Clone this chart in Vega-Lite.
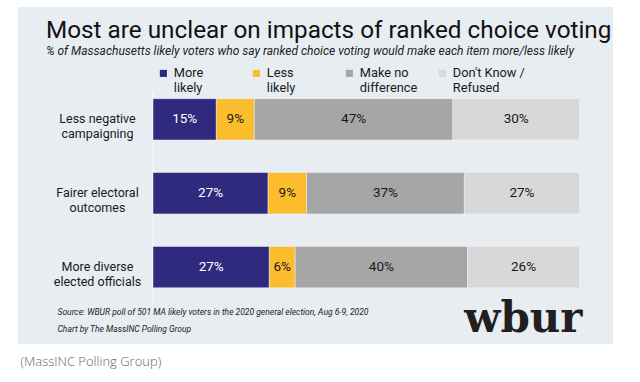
{
  "$schema": "https://vega.github.io/schema/vega-lite/v6.json",
  "width": 595,
  "height": 337,
  "autosize": {"type": "none"},
  "padding": {"left": 18, "top": 7, "right": 27, "bottom": 38},
  "background": "white",
  "config": {"view": {"fill": "#e8edf2", "stroke": null}, "font": "Roboto"},
  "title": {
    "text": "Most are unclear on impacts of ranked choice voting",
    "subtitle": "% of Massachusetts likely voters who say ranked choice voting would make each item more/less likely",
    "anchor": "start",
    "frame": "group",
    "orient": "top",
    "offset": -50,
    "dx": 28,
    "font": "Roboto",
    "fontSize": 24.3,
    "fontWeight": "normal",
    "color": "#111111",
    "subtitleFont": "Roboto",
    "subtitleFontSize": 12,
    "subtitleFontStyle": "italic",
    "subtitleFontWeight": "normal",
    "subtitleColor": "#222222",
    "subtitlePadding": 3
  },
  "data": {
    "values": [
      {"item": "Less negative campaigning", "cat": "More likely", "v": 15},
      {"item": "Less negative campaigning", "cat": "Less likely", "v": 9},
      {"item": "Less negative campaigning", "cat": "Make no difference", "v": 47},
      {"item": "Less negative campaigning", "cat": "Don't Know / Refused", "v": 30},
      {"item": "Fairer electoral outcomes", "cat": "More likely", "v": 27},
      {"item": "Fairer electoral outcomes", "cat": "Less likely", "v": 9},
      {"item": "Fairer electoral outcomes", "cat": "Make no difference", "v": 37},
      {"item": "Fairer electoral outcomes", "cat": "Don't Know / Refused", "v": 27},
      {"item": "More diverse elected officials", "cat": "More likely", "v": 27},
      {"item": "More diverse elected officials", "cat": "Less likely", "v": 6},
      {"item": "More diverse elected officials", "cat": "Make no difference", "v": 40},
      {"item": "More diverse elected officials", "cat": "Don't Know / Refused", "v": 26}
    ]
  },
  "transform": [
    {"calculate": "indexof(['More likely','Less likely','Make no difference','Don\\'t Know / Refused'], datum.cat)", "as": "o"},
    {"stack": "v", "groupby": ["item"], "sort": [{"field": "o", "order": "ascending"}], "offset": "normalize", "as": ["v0", "v1"]},
    {"calculate": "(datum.v0 + datum.v1) / 2", "as": "mid"},
    {"calculate": "datum.v + '%'", "as": "label"}
  ],
  "layer": [
    {
      "data": {"values": [{"r": 0}]},
      "transform": [],
      "mark": {"type": "rule", "color": "#f7f9fb", "strokeWidth": 1.2},
      "encoding": {
        "x": {"datum": 0, "type": "quantitative", "axis": null, "scale": {"domain": [-0.3165, 1.0785], "nice": false, "zero": false}},
        "y": {"datum": "Less negative campaigning", "type": "nominal", "bandPosition": -0.18, "axis": null},
        "y2": {"datum": "More diverse elected officials", "bandPosition": 1.4}
      }
    },
    {
      "mark": {"type": "bar", "stroke": "#f0f3f6", "strokeWidth": 0.5},
      "encoding": {
        "x": {
          "field": "v0", "type": "quantitative",
          "scale": {"domain": [-0.3165, 1.0785], "nice": false, "zero": false},
          "axis": {
            "orient": "bottom", "labels": false, "ticks": false, "domain": false, "grid": false,
            "title": ["Source: WBUR poll of 501 MA likely voters in the 2020 general election, Aug 6-9, 2020", "Chart by The MassINC Polling Group"],
            "titleX": 39, "titleY": -30, "titleAnchor": null, "titleAlign": "left", "titleBaseline": "alphabetic",
            "titleFont": "Roboto", "titleFontSize": 8.5, "titleFontStyle": "italic", "titleFontWeight": "normal",
            "titleLineHeight": 17, "titleColor": "#222222"
          }
        },
        "x2": {"field": "v1"},
        "y": {
          "field": "item", "type": "nominal", "sort": null,
          "scale": {"domain": ["Less negative campaigning", "Fairer electoral outcomes", "More diverse elected officials"], "paddingInner": 0.44, "paddingOuter": 1.11, "align": 0.62},
          "axis": {
            "orient": "left", "ticks": false, "domain": false, "grid": false,
            "labelAlign": "center", "labelPadding": -79,
            "labelExpr": "[join(slice(split(datum.label,' '),0,2),' '), join(slice(split(datum.label,' '),2),' ')]",
            "labelFont": "Roboto", "labelFontSize": 12.5, "labelLineHeight": 15, "labelColor": "#1a1a1a",
            "title": "(MassINC Polling Group)", "titleAngle": 0, "titleX": 2, "titleY": 358,
            "titleAlign": "left", "titleBaseline": "alphabetic", "titleFont": "Open Sans",
            "titleFontWeight": 300, "titleFontSize": 13, "titleColor": "#666666"
          }
        },
        "color": {
          "field": "cat", "type": "nominal",
          "scale": {"domain": ["More likely", "Less likely", "Make no difference", "Don't Know / Refused"], "range": ["#302a7e", "#fbbd2d", "#a6a6a6", "#d8d8d8"]},
          "legend": {
            "orient": "none", "legendX": 139, "legendY": 60, "direction": "horizontal", "title": null,
            "gridAlign": "all", "columnPadding": 4, "symbolType": "square", "symbolSize": 50, "symbolStrokeWidth": 0,
            "labelFont": "Roboto", "labelFontSize": 12.8, "labelLineHeight": 15, "labelColor": "#1a1a1a", "labelOffset": 4,
            "labelExpr": "datum.label == 'More likely' ? ['More','likely'] : datum.label == 'Less likely' ? ['Less','likely'] : datum.label == 'Make no difference' ? ['Make no','difference'] : [\"Don't Know /\",'Refused']"
          }
        }
      }
    },
    {
      "mark": {"type": "text", "fontSize": 13.5, "font": "Roboto"},
      "encoding": {
        "x": {"field": "mid", "type": "quantitative", "axis": null},
        "y": {
          "field": "item", "type": "nominal", "sort": null,
          "axis": {
            "orient": "right", "labels": false, "ticks": false, "domain": false, "grid": false,
            "title": "wbur", "titleAngle": 0, "titleX": -31, "titleY": 324, "titleAlign": "right",
            "titleBaseline": "alphabetic", "titleFont": "DejaVu Serif", "titleFontSize": 42,
            "titleFontWeight": "bold", "titleColor": "#231f20"
          }
        },
        "text": {"field": "label"},
        "color": {"condition": {"test": "datum.cat === 'More likely'", "value": "white"}, "value": "#1a1a1a"}
      }
    }
  ],
  "resolve": {"axis": {"x": "independent", "y": "independent"}}
}
